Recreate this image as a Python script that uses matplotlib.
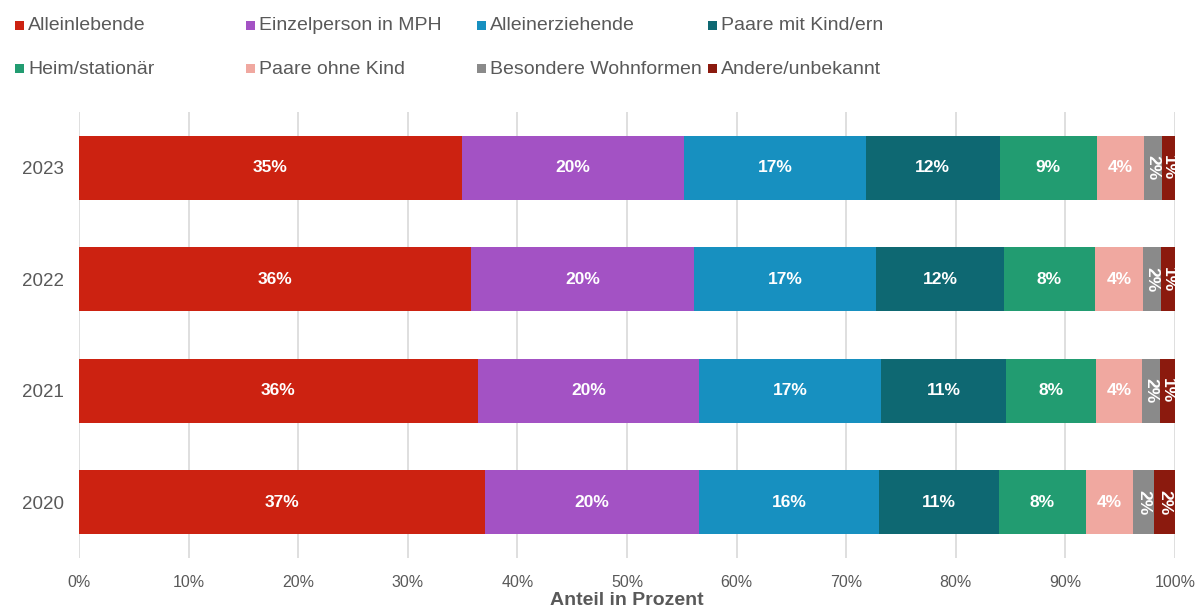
import matplotlib.pyplot as plt
from matplotlib.patches import Rectangle

plt.rcParams["font.family"] = ["Liberation Sans", "DejaVu Sans"]

years = ["2023", "2022", "2021", "2020"]
categories = [
    "Alleinlebende", "Einzelperson in MPH", "Alleinerziehende", "Paare mit Kind/ern",
    "Heim/stationär", "Paare ohne Kind", "Besondere Wohnformen", "Andere/unbekannt",
]
colors = ["#cc2211", "#a352c4", "#1790c0", "#0e6872", "#229c71", "#f0a8a0", "#8a8a8a", "#8b1a0e"]

# Anteile in Prozent je Jahr (Reihenfolge wie years)
alleinlebende = [34.9, 35.8, 36.4, 37.0]
einzelperson_mph = [20.3, 20.3, 20.2, 19.6]
alleinerziehende = [16.6, 16.6, 16.6, 16.4]
paare_mit_kind = [12.2, 11.7, 11.4, 10.9]
heim_stationaer = [8.9, 8.3, 8.2, 8.0]
paare_ohne_kind = [4.3, 4.4, 4.2, 4.3]
besondere_wohnformen = [1.6, 1.6, 1.6, 1.9]
andere_unbekannt = [1.2, 1.3, 1.4, 1.9]

series = [alleinlebende, einzelperson_mph, alleinerziehende, paare_mit_kind,
          heim_stationaer, paare_ohne_kind, besondere_wohnformen, andere_unbekannt]

W, H = 1198, 612
fig = plt.figure(figsize=(W / 100, H / 100), dpi=100)
ax = fig.add_axes([79 / W, 1 - 558 / H, (1175 - 79) / W, (558 - 112) / H])

ypos = list(range(len(years)))
left = [0.0] * len(years)
for vals, color in zip(series, colors):
    ax.barh(ypos, vals, left=left, height=0.57, color=color, zorder=2)
    for y, v, l in zip(ypos, vals, left):
        small = v < 2.5
        ax.text(l + v / 2, y, f"{v:.0f}%", ha="center", va="center",
                color="white", fontsize=12.5, fontweight="bold",
                rotation=-90 if small else 0, zorder=3)
    left = [a + b for a, b in zip(left, vals)]

ax.set_xlim(0, 100)
ax.set_ylim(len(years) - 0.5, -0.5)
ax.set_yticks(ypos)
ax.set_yticklabels(years, fontsize=13.5, color="#595959")
ax.set_xticks(range(0, 101, 10))
ax.set_xticklabels([f"{t}%" for t in range(0, 101, 10)], fontsize=11.5, color="#595959")
ax.tick_params(axis="both", length=0)
ax.tick_params(axis="x", pad=12)
ax.tick_params(axis="y", pad=11)
ax.grid(axis="x", color="#d9d9d9", linewidth=1.2, zorder=0)
for s in ax.spines.values():
    s.set_visible(False)
ax.set_xlabel("Anteil in Prozent", fontsize=14, fontweight="bold", color="#595959", labelpad=2)

# Legende: 2 Zeilen à 4 Einträge
for i, (name, color) in enumerate(zip(categories, colors)):
    col, row = i % 4, i // 4
    x = 15 + col * 231
    y = 25 + row * 43
    fig.add_artist(Rectangle((x / W, 1 - (y + 4.5) / H), 9 / W, 9 / H,
                             transform=fig.transFigure, color=color, lw=0))
    fig.text((x + 13) / W, 1 - (y + 1) / H, name, ha="left", va="center",
             fontsize=14, color="#595959")

fig.savefig("out.png", dpi=100)
